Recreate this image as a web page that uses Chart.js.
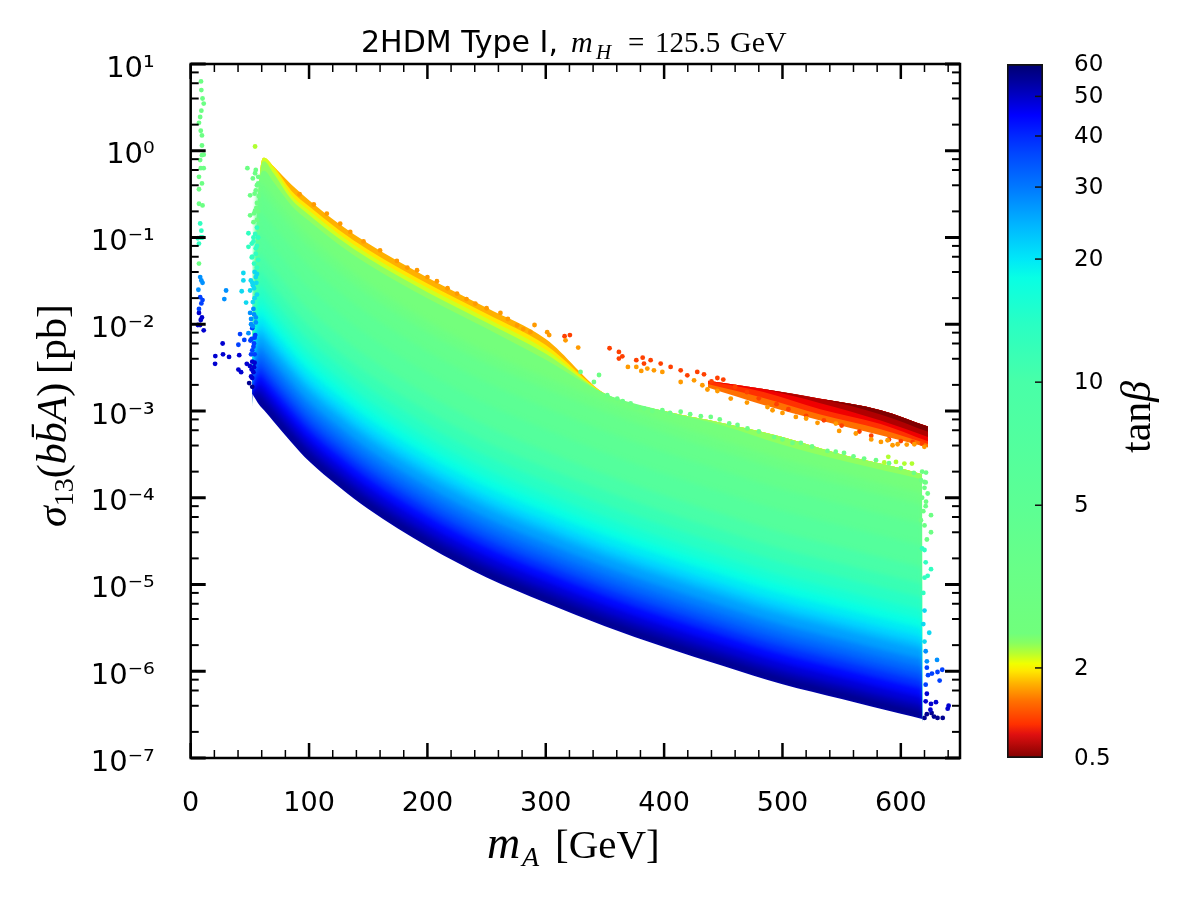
<!DOCTYPE html>
<html>
<head>
<meta charset="utf-8">
<title>2HDM Type I</title>
<script src="https://cdn.jsdelivr.net/npm/chart.js@4"></script>
<style>
  html, body { margin: 0; background: #fff; }
  #wrap { position: relative; width: 1200px; height: 900px; }
  canvas { position: absolute; left: 0; top: 0; }
  #barChart { left: 1000px; }
</style>
</head>
<body>
<div id="wrap">
  <canvas id="mainChart" width="1200" height="900"></canvas>
  <canvas id="barChart" width="130" height="900"></canvas>
</div>
<script>
// m_A columns of the contour tables below
const massGrid = [52, 58, 62, 70, 85, 100, 125, 150, 200, 250, 300, 350, 400, 450, 500, 550, 600, 618];

// log10(sigma/pb), one contour of constant tanb per array
const tan60 = [-2.80, -2.93, -2.99, -3.12, -3.36, -3.58, -3.87, -4.13, -4.56, -4.92, -5.21, -5.48, -5.72, -5.94, -6.15, -6.32, -6.49, -6.55];
const tan55 = [-2.797, -2.85, -2.91, -3.04, -3.28, -3.50, -3.79, -4.05, -4.48, -4.84, -5.13, -5.40, -5.64, -5.86, -6.07, -6.24, -6.41, -6.47];
const tan50 = [-2.794, -2.77, -2.83, -2.96, -3.20, -3.42, -3.71, -3.97, -4.40, -4.76, -5.05, -5.32, -5.56, -5.78, -5.99, -6.16, -6.33, -6.39];
const tan45 = [-2.791, -2.68, -2.74, -2.87, -3.11, -3.33, -3.62, -3.88, -4.31, -4.67, -4.96, -5.23, -5.47, -5.69, -5.90, -6.07, -6.24, -6.30];
const tan40 = [-2.788, -2.58, -2.64, -2.77, -3.01, -3.23, -3.52, -3.78, -4.21, -4.57, -4.86, -5.13, -5.37, -5.59, -5.80, -5.97, -6.14, -6.20];
const tan36 = [-2.785, -2.49, -2.55, -2.68, -2.92, -3.14, -3.43, -3.69, -4.12, -4.48, -4.77, -5.04, -5.28, -5.50, -5.71, -5.88, -6.05, -6.11];
const tan33 = [-2.782, -2.41, -2.47, -2.60, -2.84, -3.06, -3.35, -3.61, -4.04, -4.40, -4.69, -4.96, -5.20, -5.42, -5.63, -5.80, -5.97, -6.03];
const tan30 = [-2.779, -2.33, -2.39, -2.52, -2.76, -2.98, -3.27, -3.53, -3.96, -4.32, -4.61, -4.88, -5.12, -5.34, -5.55, -5.72, -5.89, -5.95];
const tan27 = [-2.776, -2.24, -2.30, -2.43, -2.67, -2.89, -3.18, -3.44, -3.87, -4.23, -4.52, -4.79, -5.03, -5.25, -5.46, -5.63, -5.80, -5.86];
const tan24 = [-2.773, -2.13, -2.19, -2.32, -2.56, -2.78, -3.07, -3.33, -3.76, -4.12, -4.41, -4.68, -4.92, -5.14, -5.35, -5.52, -5.69, -5.75];
const tan22 = [-2.770, -2.06, -2.12, -2.25, -2.49, -2.71, -3.00, -3.26, -3.69, -4.05, -4.34, -4.61, -4.85, -5.07, -5.28, -5.45, -5.62, -5.68];
const tan20 = [-2.767, -1.98, -2.04, -2.17, -2.41, -2.63, -2.92, -3.18, -3.61, -3.97, -4.26, -4.53, -4.77, -4.99, -5.20, -5.37, -5.54, -5.60];
const tan18 = [-2.764, -1.88, -1.94, -2.07, -2.31, -2.53, -2.82, -3.08, -3.51, -3.87, -4.16, -4.43, -4.67, -4.89, -5.10, -5.27, -5.44, -5.50];
const tan16 = [-2.761, -1.78, -1.84, -1.97, -2.21, -2.43, -2.72, -2.98, -3.41, -3.77, -4.06, -4.33, -4.57, -4.79, -5.00, -5.17, -5.34, -5.40];
const tan14 = [-2.758, -1.67, -1.73, -1.86, -2.10, -2.32, -2.61, -2.87, -3.30, -3.66, -3.95, -4.22, -4.46, -4.68, -4.89, -5.06, -5.23, -5.29];
const tan12 = [-2.755, -1.53, -1.59, -1.72, -1.96, -2.18, -2.47, -2.73, -3.16, -3.52, -3.81, -4.08, -4.32, -4.54, -4.75, -4.92, -5.09, -5.15];
const tan10 = [-2.752, -1.37, -1.43, -1.56, -1.80, -2.02, -2.31, -2.57, -3.00, -3.36, -3.65, -3.92, -4.16, -4.38, -4.59, -4.76, -4.93, -4.99];
const tan8 = [-2.749, -1.18, -1.24, -1.37, -1.61, -1.83, -2.12, -2.38, -2.81, -3.17, -3.46, -3.73, -3.97, -4.19, -4.40, -4.57, -4.74, -4.80];
const tan6 = [-2.746, -0.93, -0.99, -1.12, -1.36, -1.58, -1.87, -2.13, -2.56, -2.92, -3.21, -3.48, -3.72, -3.94, -4.15, -4.32, -4.49, -4.55];
const tan4p5 = [-2.743, -0.68, -0.74, -0.87, -1.11, -1.33, -1.62, -1.88, -2.31, -2.67, -2.96, -3.23, -3.47, -3.69, -3.90, -4.07, -4.24, -4.30];
const tan3p5 = [-2.740, -0.46, -0.52, -0.65, -0.89, -1.11, -1.40, -1.66, -2.09, -2.45, -2.74, -3.01, -3.25, -3.47, -3.68, -3.85, -4.02, -4.08];
const tan3 = [-2.737, -0.35, -0.39, -0.52, -0.76, -0.98, -1.27, -1.53, -1.96, -2.32, -2.61, -2.88, -3.12, -3.34, -3.55, -3.72, -3.89, -3.95];
const tan2p5 = [-2.734, -0.35, -0.23, -0.36, -0.63, -0.81, -1.08, -1.31, -1.70, -2.05, -2.41, -2.80, -3.00, -3.17, -3.39, -3.57, -3.73, -3.79];
const tan2p2 = [-2.731, -0.35, -0.12, -0.26, -0.56, -0.74, -1.01, -1.24, -1.63, -1.98, -2.34, -2.80, -3.00, -3.14, -3.30, -3.50, -3.66, -3.73];
const tan2 = [-2.728, -0.35, -0.08, -0.20, -0.51, -0.69, -0.96, -1.19, -1.58, -1.93, -2.29, -2.80, -3.00, -3.14, -3.30, -3.50, -3.66, -3.73];
const tan1p85 = [-2.725, -0.35, -0.08, -0.18, -0.46, -0.64, -0.91, -1.14, -1.53, -1.88, -2.24, -2.80, -3.00, -3.14, -3.30, -3.50, -3.66, -3.73];
const upperEdge = [-2.72, -0.35, -0.08, -0.18, -0.39, -0.57, -0.84, -1.07, -1.46, -1.81, -2.17, -2.80, -3.00, -3.14, -3.30, -3.50, -3.66, -3.73];

const fanRows = [tan60, tan55, tan50, tan45, tan40, tan36, tan33, tan30, tan27, tan24, tan22, tan20, tan18, tan16, tan14, tan12, tan10, tan8, tan6, tan4p5, tan3p5, tan3, tan2p5, tan2p2, tan2, tan1p85, upperEdge];
// colour of the band just under each row, first entry is the white below the fan
const fanColors = ['#ffffff', '#00008c', '#0000b0', '#0000d8', '#0008ff', '#0030ff', '#0050ff', '#0068ff', '#0080ff', '#00a0ff', '#00bcff', '#00d4ff', '#00ecf4', '#08ffe4', '#18ffd4', '#28ffc4', '#38ffb4', '#48ffa8', '#54ff9c', '#5cff94', '#64ff8c', '#6cff84', '#74ff7c', '#90ff60', '#d0ff20', '#ffe800', '#ffb000'];

// the low tanb strip on the right
const redMass = [437, 484, 532, 583, 623];
const redTop = [-2.65, -2.745, -2.86, -2.99, -3.18];
const redRow1 = [-2.65, -2.745, -2.86, -3.04, -3.24];
const redRow2 = [-2.65, -2.75, -2.91, -3.11, -3.30];
const redRow3 = [-2.65, -2.78, -2.98, -3.15, -3.35];
const redRow4 = [-2.69, -2.85, -3.04, -3.21, -3.38];
const redRow5 = [-2.73, -2.93, -3.11, -3.28, -3.42];
const redRows = [redTop, redRow1, redRow2, redRow3, redRow4, redRow5];
const redColors = ['', '#800000', '#b00000', '#f00000', '#ff3000', '#ff7000'];

// loose points, grouped by colour
const greenX = [8.7, 9, 10, 11, 9, 8, 7, 8.5, 9.5, 9.5, 9.5, 11, 8, 8.5, 11, 7, 9.5, 7, 7, 10, 7, 47.9, 52.5, 54.4, 50.2, 54.4, 50.2, 55, 56, 57, 53, 55, 57, 56, 54, 57.5, 55.5, 57, 53.5, 56, 621.3, 619.9, 622.7, 621.3, 625.5, 625.5, 617, 620, 618, 621, 619, 617, 620, 622, 329.4, 340.7, 352, 360.4, 371.7, 383, 398.5, 414, 431, 439.4, 462, 470.4, 493, 508.5, 515.5, 538, 552, 569, 579, 611, 621, 618, 345, 365, 377, 390, 405, 422, 447, 455, 480, 500, 525, 545, 560, 590, 600];
const greenY = [6.3, 5.0, 4.0, 3.5, 2.9, 2.45, 2.1, 1.7, 1.5, 1.15, 0.89, 0.9, 0.78, 0.63, 0.63, 0.5, 0.42, 0.36, 0.245, 0.234, 0.05, 0.63, 0.48, 0.55, 0.306, 0.204, 0.18, 0.35, 0.25, 0.42, 0.15, 0.6, 0.5, 0.4, 0.32, 0.3, 0.22, 0.2, 0.19, 0.16, 1.95e-4, 1.52e-4, 1.12e-4, 9e-5, 6.3e-5, 4e-5, 1.6e-4, 1.3e-4, 1e-4, 8e-5, 7e-5, 5.5e-5, 4.8e-5, 3.3e-5, 2.82e-3, 2.16e-3, 1.52e-3, 1.39e-3, 1.22e-3, 1.07e-3, 1.02e-3, 9.8e-4, 8.7e-4, 8.55e-4, 6.9e-4, 6.3e-4, 5e-4, 4.28e-4, 4.3e-4, 3.47e-4, 3.29e-4, 2.83e-4, 2.71e-4, 1.94e-4, 1.5e-4, 2e-4, 2.6e-3, 1.3e-3, 1.1e-3, 1e-3, 9.5e-4, 9.2e-4, 8e-4, 7.2e-4, 5.8e-4, 4.7e-4, 3.9e-4, 3.4e-4, 3e-4, 2.5e-4, 2.2e-4];
const tealX = [8, 9, 8.5, 6, 10, 7, 48.8, 51.6, 48.8, 51.6, 53, 55, 52, 56, 56, 54.5, 57, 53, 56, 55, 53.5, 57, 625.5, 622.7, 620, 621, 620, 619, 618];
const tealY = [0.145, 0.12, 0.1, 0.098, 0.1, 0.085, 0.112, 0.085, 0.078, 0.059, 0.1, 0.075, 0.06, 0.045, 0.13, 0.11, 0.1, 0.09, 0.08, 0.065, 0.05, 0.055, 1.5e-5, 1.26e-5, 2.5e-5, 1.8e-5, 1.2e-5, 8e-6, 2.6e-5];
const cyanX = [44.5, 44.5, 50.8, 43.1, 50.2, 46.8, 55, 52.5, 54, 54, 56, 52, 55.5, 53.5, 56, 52.5, 624, 620, 619, 620];
const cyanY = [0.039, 0.032, 0.032, 0.024, 0.0245, 0.0178, 0.035, 0.028, 0.02, 0.04, 0.038, 0.03, 0.03, 0.026, 0.022, 0.018, 2.78e-6, 5e-6, 3.5e-6, 2.2e-6];
const skyX = [8, 9, 10, 6.5, 29.9, 28.4, 50.2, 48.8, 53, 55, 51, 53.5, 51, 55, 52.5, 630.6, 621, 622];
const skyY = [0.035, 0.032, 0.03, 0.025, 0.0245, 0.0195, 0.0135, 0.0079, 0.015, 0.012, 0.01, 0.013, 0.0115, 0.0105, 0.0095, 1.35e-6, 1.7e-6, 1.3e-6];
const blueX = [8, 10, 9, 7, 41.7, 45.3, 40.3, 52, 54, 50.5, 53, 51, 54.5, 51.5, 53.5, 52, 54, 635, 631, 626.3, 632.8, 622, 623, 621];
const blueY = [0.0205, 0.019, 0.0174, 0.015, 0.0077, 0.0066, 0.0058, 0.009, 0.007, 0.0065, 0.0055, 0.0045, 0.0075, 0.0068, 0.006, 0.005, 0.0045, 1.04e-6, 9.8e-7, 9.4e-7, 7.8e-7, 1.1e-6, 9e-7, 7e-7];
const darkBlueX = [7, 9.5, 8.5, 6, 8, 11, 27, 27.3, 20.8, 20.6, 32.4, 41, 40.3, 42.6, 47.4, 52, 50, 53, 51, 54, 51.5, 53.5, 52, 629.7, 625.5, 640.4, 639.6, 622, 621, 625];
const darkBlueY = [0.0135, 0.012, 0.0112, 0.0098, 0.0098, 0.0085, 0.006, 0.0045, 0.0043, 0.0035, 0.0042, 0.0044, 0.003, 0.0028, 0.0035, 0.0037, 0.0033, 0.0028, 0.0025, 0.0036, 0.003, 0.0032, 0.0024, 4.4e-7, 4.2e-7, 4e-7, 3.7e-7, 5.5e-7, 4.5e-7, 3.6e-7];
const navyX = [49.4, 52, 631, 635.4, 622, 626, 628, 620];
const navyY = [0.0021, 0.0019, 2.9e-7, 2.9e-7, 3.2e-7, 3.3e-7, 3e-7, 2.9e-7];
const orangeX = [92, 104, 115, 126.3, 134.8, 146, 160, 174.2, 191.2, 208, 225, 240.5, 261.7, 275.8, 287, 183, 200, 217, 233, 250, 268, 281, 290.5, 301.2, 302.9, 316.7, 327.4, 369.4, 376.5, 380.7, 385.8, 391.4, 398.5, 414, 425.3, 432.3, 436.6, 456.3, 487.3, 491.6, 511.3, 529.6, 545.1, 547.9, 562, 583.2, 588.8, 593, 597.3, 611.4, 619.9, 445, 470, 500, 520, 575, 605];
const orangeY = [0.315, 0.24, 0.188, 0.144, 0.116, 0.09, 0.071, 0.0537, 0.0419, 0.0313, 0.0226, 0.0173, 0.0135, 0.00973, 0.00815, 0.045, 0.035, 0.026, 0.0195, 0.0153, 0.0115, 0.0088, 0.0098, 0.0081, 0.0075, 0.00653, 0.00538, 0.00322, 0.00322, 0.0029, 0.00308, 0.00294, 0.00282, 0.00216, 0.00226, 0.00198, 0.00177, 0.00139, 0.00111, 0.00102, 8.55e-4, 7.3e-4, 7.16e-4, 5.9e-4, 5.5e-4, 4.4e-4, 4.6e-4, 4.03e-4, 4.14e-4, 4.14e-4, 3.86e-4, 0.0017, 0.00125, 9.5e-4, 8.2e-4, 4.7e-4, 4.1e-4];
const redDotX = [315.9, 320.4, 353.9, 361.8, 364.7, 361.8, 376.5, 381.9, 383, 388.6, 397.1, 405.5, 414, 419.6, 428, 433.7, 440, 445, 450, 460, 470, 480, 495, 505, 520, 535, 550, 565, 575, 590, 600, 610, 618];
const redDotY = [0.00727, 0.0075, 0.00529, 0.0048, 0.00427, 0.00402, 0.00385, 0.00412, 0.00352, 0.00385, 0.00352, 0.00322, 0.00294, 0.00258, 0.00282, 0.00265, 0.0022, 0.0024, 0.0023, 0.0019, 0.00165, 0.0014, 0.0012, 0.00105, 8.8e-4, 7.8e-4, 6.8e-4, 5.8e-4, 5.2e-4, 4.7e-4, 4.5e-4, 4.4e-4, 4.2e-4];
const limeX = [54.4, 589.4, 586, 595.9, 603, 609.4];
const limeY = [1.12, 2.96e-4, 2.55e-4, 2.59e-4, 2.48e-4, 2.48e-4];

const dotGroups = [
  [greenX, greenY, '#6cff84'], [tealX, tealY, '#30ffc0'], [cyanX, cyanY, '#10d8f0'],
  [skyX, skyY, '#0090ff'], [blueX, blueY, '#0040ff'], [darkBlueX, darkBlueY, '#0000d0'],
  [navyX, navyY, '#000090'], [orangeX, orangeY, '#ff9a00'], [redDotX, redDotY, '#ff4000'],
  [limeX, limeY, '#b0ff30']
];

// axes
const xTicks = [0, 100, 200, 300, 400, 500, 600];
const xMinorTicks = [20, 40, 60, 80, 120, 140, 160, 180, 220, 240, 260, 280, 320, 340, 360, 380, 420, 440, 460, 480, 520, 540, 560, 580, 620, 640];
const yTicks = [1e-7, 1e-6, 1e-5, 1e-4, 1e-3, 1e-2, 1e-1, 1, 10];
const yTickLabels = ['10⁻⁷', '10⁻⁶', '10⁻⁵', '10⁻⁴', '10⁻³', '10⁻²', '10⁻¹', '10⁰', '10¹'];
const yMinorMultiples = [2, 4, 6, 8];

// colour bar
const barTicks = [0.5, 2, 5, 10, 20, 30, 40, 50, 60];
const barStopTan = [0.5, 0.72, 0.84, 1.2, 1.56, 1.91, 2.05, 2.17, 2.3, 2.43, 3.5, 5, 10, 14, 18, 20, 24, 30, 36, 40, 45, 50, 55, 60];
const barStopColors = ['#800000', '#e01010', '#ff3000', '#ff7000', '#ffb000', '#ffe800', '#f0ff00', '#b8ff30', '#88ff60', '#70ff7c', '#68ff88', '#5cff94', '#48ffa8', '#28ffc4', '#08ffe4', '#00e8f8', '#00b8ff', '#0078ff', '#0048ff', '#0028ff', '#0000ff', '#0000c8', '#000098', '#000070'];

// colour bar axis is log above 2 and squeezed below it
function barPos(t) {
  return t >= 2 ? Math.log2(t) : 1 + Math.log2(t / 2) * 45 / 123;
}

const contour = (masses, row) => row.map((v, i) => ({ x: masses[i], y: Math.pow(10, v) }));

// row 0 paints white below the fan, so the lower edge stays sharp after the blur
const datasets = [];
fanRows.forEach((row, i) => {
  datasets.push({
    data: contour(massGrid, row),
    borderWidth: 0,
    pointRadius: 0,
    cubicInterpolationMode: 'monotone',
    backgroundColor: fanColors[i],
    fill: i === 0 ? 'start' : 0
  });
});
const redBase = datasets.length;
redRows.forEach((row, i) => {
  datasets.push({
    data: contour(redMass, row),
    borderWidth: 0,
    pointRadius: 0,
    cubicInterpolationMode: 'monotone',
    backgroundColor: redColors[i] || 'transparent',
    fill: i === 0 ? false : redBase
  });
});
dotGroups.forEach(g => {
  datasets.push({
    type: 'scatter',
    data: g[0].map((x, i) => ({ x: x, y: g[1][i] })),
    backgroundColor: g[2],
    pointRadius: 2.4,
    pointBorderWidth: 0,
    showLine: false,
    order: -1
  });
});

// soften the steps between the inner colour bands, the yellow rim stays crisp
const softBands = {
  id: 'softBands',
  afterDatasetDraw(chart, args) {
    if (args.index === fanRows.indexOf(tan2p5)) chart.ctx.filter = 'blur(2.5px)';
    if (args.index === 1) chart.ctx.filter = 'none';
  }
};

// text with mixed fonts, each run at its own x
function drawRuns(ctx, x, y, rotate, runs) {
  ctx.save();
  ctx.translate(x, y);
  if (rotate) ctx.rotate(-Math.PI / 2);
  ctx.fillStyle = '#000';
  ctx.textBaseline = 'alphabetic';
  ctx.textAlign = 'left';
  let pos = 0;
  runs.forEach(r => {
    ctx.font = r[1];
    if (r[3] !== undefined) pos = r[3];
    ctx.fillText(r[0], pos, r[2] || 0);
    pos += ctx.measureText(r[0]).width;
  });
  ctx.restore();
}

const frameAndLabels = {
  id: 'frameAndLabels',
  afterDatasetsDraw(chart) {
    const ctx = chart.ctx, a = chart.chartArea, sx = chart.scales.x, sy = chart.scales.y;
    ctx.save();
    ctx.strokeStyle = '#000';
    const mark = (x1, y1, x2, y2, w) => {
      ctx.lineWidth = w;
      ctx.beginPath();
      ctx.moveTo(x1, y1);
      ctx.lineTo(x2, y2);
      ctx.stroke();
    };
    xTicks.forEach(v => {
      const p = sx.getPixelForValue(v);
      mark(p, a.bottom, p, a.bottom - 15, 2.5);
      mark(p, a.top, p, a.top + 15, 2.5);
    });
    xMinorTicks.forEach(v => {
      const p = sx.getPixelForValue(v);
      mark(p, a.bottom, p, a.bottom - 8, 1.5);
      mark(p, a.top, p, a.top + 8, 1.5);
    });
    yTicks.forEach((v, i) => {
      const p = sy.getPixelForValue(v);
      mark(a.left, p, a.left + 15, p, 3);
      mark(a.right, p, a.right - 15, p, 3);
      if (i === yTicks.length - 1) return;
      yMinorMultiples.forEach(m => {
        const q = sy.getPixelForValue(v * m);
        mark(a.left, q, a.left + 8, q, 2);
        mark(a.right, q, a.right - 8, q, 2);
      });
    });
    ctx.lineWidth = 2.5;
    ctx.strokeRect(a.left, a.top, a.right - a.left, a.bottom - a.top);
    ctx.restore();

    const sans = 'px "DejaVu Sans"';
    const serif = 'px "Liberation Serif"';
    const ital = 'italic ';
    drawRuns(ctx, 0, 52, false, [
      ['2HDM Type I,', 30 + sans, 0, 361],
      ['m', ital + 30 + serif, 0, 571],
      ['H', ital + 21 + serif, 7, 596],
      ['=', 29 + serif, 0, 628],
      ['125.5', 29 + serif, 0, 655],
      ['GeV', 30 + serif, 0, 730]
    ]);
    drawRuns(ctx, 0, 858, false, [
      ['m', ital + 46 + serif, 0, 487],
      ['A', ital + 28 + serif, 8, 522],
      ['[GeV]', 41 + serif, 0, 555]
    ]);
    drawRuns(ctx, 66, 527, true, [
      ['σ', ital + 42 + serif],
      ['13', 28 + serif, 7],
      ['(', 42 + serif],
      ['bb\u0304', ital + 42 + serif],
      ['A', ital + 42 + serif],
      [')', 42 + serif],
      ['[pb]', 42 + serif, 0, 153]
    ]);
    drawRuns(ctx, 1150, 453, true, [
      ['tan', 42 + serif],
      ['β', ital + 42 + serif]
    ]);
  }
};

new Chart(document.getElementById('mainChart'), {
  type: 'line',
  data: { datasets: datasets },
  plugins: [softBands, frameAndLabels],
  options: {
    responsive: false,
    animation: false,
    layout: { padding: { top: 64, right: 240, left: 0, bottom: 0 } },
    plugins: { legend: { display: false }, tooltip: { enabled: false } },
    scales: {
      x: {
        type: 'linear',
        min: 0,
        max: 650,
        grid: { display: false, drawTicks: false },
        border: { display: false },
        afterBuildTicks: s => { s.ticks = xTicks.map(v => ({ value: v })); },
        afterFit: s => { s.height = 142; },
        ticks: { color: '#000', padding: 30, maxRotation: 0, autoSkip: false, font: { family: 'DejaVu Sans', size: 27 }, callback: v => String(v) }
      },
      y: {
        type: 'logarithmic',
        min: 1e-7,
        max: 10,
        grid: { display: false, drawTicks: false },
        border: { display: false },
        afterBuildTicks: s => { s.ticks = yTicks.map(v => ({ value: v })); },
        afterFit: s => { s.width = 190.7; },
        ticks: { color: '#000', padding: 36, labelOffset: 5, autoSkip: false, font: { family: 'DejaVu Sans', size: 29 }, callback: (v, i) => yTickLabels[i] }
      }
    }
  }
});

const barInnerTicks = {
  id: 'barInnerTicks',
  afterDatasetsDraw(chart) {
    const ctx = chart.ctx, a = chart.chartArea, sy = chart.scales.y;
    ctx.save();
    ctx.strokeStyle = '#111';
    ctx.lineWidth = 1.5;
    barTicks.slice(1, -1).forEach(t => {
      const p = sy.getPixelForValue(barPos(t));
      ctx.beginPath();
      ctx.moveTo(a.right, p);
      ctx.lineTo(a.right - 8, p);
      ctx.stroke();
    });
    ctx.restore();
  }
};

function barGradient(context) {
  const chart = context.chart;
  if (!chart.chartArea) return '#48ffa8';
  const g = chart.ctx.createLinearGradient(0, chart.chartArea.bottom, 0, chart.chartArea.top);
  const lo = barPos(barStopTan[0]);
  const hi = barPos(barStopTan[barStopTan.length - 1]);
  barStopTan.forEach((t, i) => g.addColorStop((barPos(t) - lo) / (hi - lo), barStopColors[i]));
  return g;
}

new Chart(document.getElementById('barChart'), {
  type: 'bar',
  data: {
    labels: ['tanb'],
    datasets: [{
      data: [[barPos(0.5), barPos(60)]],
      backgroundColor: barGradient,
      borderColor: '#111',
      borderWidth: 2,
      borderSkipped: false,
      barPercentage: 1,
      categoryPercentage: 1
    }]
  },
  plugins: [barInnerTicks],
  options: {
    responsive: false,
    animation: false,
    layout: { padding: { top: 64, left: 7, right: 0, bottom: 0 } },
    plugins: { legend: { display: false }, tooltip: { enabled: false } },
    scales: {
      x: { display: true, grid: { display: false, drawTicks: false }, border: { display: false }, ticks: { display: false }, afterFit: s => { s.height = 142; } },
      y: {
        position: 'right',
        min: barPos(0.5),
        max: barPos(60),
        grid: { display: false, drawTicks: false },
        border: { display: false },
        afterBuildTicks: s => { s.ticks = barTicks.map(t => ({ value: barPos(t) })); },
        afterFit: s => { s.width = 87; },
        ticks: { color: '#000', padding: 31, labelOffset: 1, autoSkip: false, font: { family: 'DejaVu Sans', size: 23 }, callback: (v, i) => String(barTicks[i]) }
      }
    }
  }
});
</script>
</body>
</html>
